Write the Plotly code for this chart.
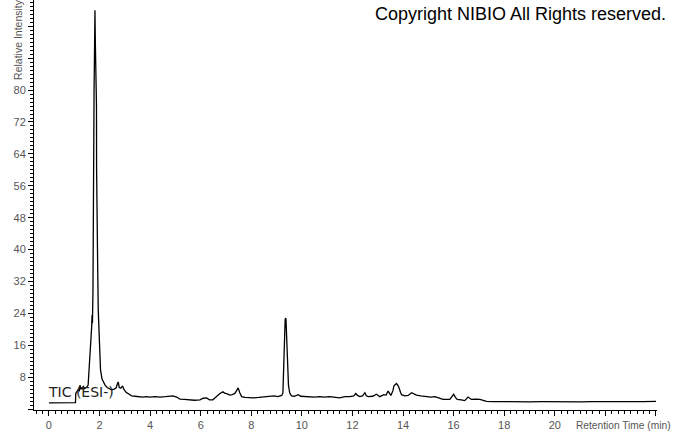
import plotly.graph_objects as go

# Retention time (min)
retention_time = [
    0.0, 0.5, 1.0, 1.05, 1.06, 1.10, 1.15, 1.20, 1.23, 1.26, 1.29, 1.33, 1.36, 1.40, 1.46, 1.50,
    1.55, 1.62, 1.69, 1.705, 1.72, 1.74, 1.745, 1.75, 1.755, 1.765, 1.785, 1.80, 1.815, 1.82,
    1.825, 1.835, 1.85, 1.87, 1.88, 1.885, 1.89, 1.91, 1.925, 1.95, 1.99, 2.04, 2.10, 2.15,
    2.22, 2.30, 2.40, 2.48, 2.58, 2.66, 2.70, 2.74, 2.78, 2.84, 2.91, 2.96, 3.05, 3.15, 3.27,
    3.4, 3.55, 3.7, 3.85, 4.0, 4.2, 4.4, 4.6, 4.75, 4.9, 5.05, 5.18, 5.35, 5.57, 5.75, 5.97,
    6.1, 6.23, 6.35, 6.48, 6.6, 6.76, 6.88, 6.95, 7.05, 7.15, 7.25, 7.35, 7.42, 7.48, 7.55,
    7.62, 7.75, 7.9, 8.1, 8.3, 8.5, 8.7, 8.9, 9.05, 9.15, 9.2, 9.25, 9.28, 9.31, 9.34, 9.37,
    9.40, 9.43, 9.47, 9.52, 9.59, 9.7, 9.86, 9.95, 10.1, 10.3, 10.5, 10.7, 10.9, 11.1, 11.3,
    11.5, 11.7, 11.9, 12.05, 12.13, 12.2, 12.29, 12.4, 12.49, 12.55, 12.62, 12.8, 12.95, 13.08,
    13.24, 13.33, 13.41, 13.52, 13.6, 13.64, 13.7, 13.74, 13.79, 13.83, 13.9, 13.94, 14.07,
    14.2, 14.34, 14.45, 14.53, 14.7, 14.93, 15.1, 15.26, 15.4, 15.58, 15.85, 15.93, 16.0,
    16.07, 16.14, 16.3, 16.44, 16.57, 16.7, 16.85, 17.04, 17.2, 17.3, 17.55, 18.0, 18.5, 19.0,
    19.5, 20.0, 20.5, 21.0, 21.5, 22.0, 22.5, 23.0, 23.5, 24.0,
]

# Relative intensity (%)
relative_intensity = [
    1.55, 1.55, 1.55, 1.6, 3.9, 4.2, 4.8, 4.6, 6.0, 4.9, 5.4, 5.0, 5.8, 5.1, 5.3, 5.5,
    6.0, 12.3, 20.6, 23.5, 21.5, 29, 40, 50, 62, 72, 80, 88, 96, 100,
    97, 92, 88, 83, 76, 60, 50, 45, 37, 24.8, 16.5, 9.8, 7.5, 6.8,
    6.0, 5.4, 5.0, 4.8, 5.0, 5.3, 6.2, 6.8, 5.4, 5.2, 5.8, 5.0, 4.2, 3.7, 3.3,
    3.2, 3.1, 3.0, 3.1, 3.0, 3.1, 3.0, 3.1, 3.2, 3.3, 3.0, 2.5, 2.4, 2.2, 2.2, 2.3,
    2.7, 2.8, 2.3, 2.3, 3.0, 3.9, 4.3, 4.0, 3.8, 3.5, 3.6, 3.9, 4.6, 5.3, 4.0,
    3.1, 2.9, 2.8, 2.8, 2.9, 3.0, 3.1, 3.3, 3.1, 3.2, 3.4, 4.0, 10, 19, 22.5, 22.8,
    17, 10, 6, 4, 3.3, 3.2, 3.6, 3.2, 3.1, 3.1, 3.0, 3.1, 3.0, 3.1, 3.0,
    2.8, 3.1, 3.1, 3.3, 3.9, 3.4, 3.1, 3.3, 4.1, 3.3, 3.1, 3.2, 3.7, 3.1,
    3.6, 3.5, 4.5, 3.4, 4.6, 5.8, 6.3, 6.4, 6.0, 5.5, 4.2, 3.6, 3.3,
    3.4, 4.1, 3.7, 3.5, 3.3, 3.1, 3.0, 3.1, 2.8, 2.4, 2.4, 3.0, 3.7,
    2.9, 2.4, 2.3, 2.1, 3.0, 2.4, 2.5, 2.4, 2.1, 1.9, 1.85, 1.8, 1.85, 1.8,
    1.85, 1.8, 1.85, 1.8, 1.85, 1.8, 1.85, 1.85, 1.85, 1.9,
]

x_tick_values = [0, 2, 4, 6, 8, 10, 12, 14, 16, 18, 20, 22, 24]
x_tick_labels = ["0", "2", "4", "6", "8", "10", "12", "14", "16", "18", "20", "", ""]
y_tick_values = [0, 8, 16, 24, 32, 40, 48, 56, 64, 72, 80, 88, 96]
y_tick_labels = ["", "8", "16", "24", "32", "40", "48", "56", "64", "72", "80", "", ""]

fig = go.Figure()
fig.add_trace(go.Scatter(
    x=retention_time, y=relative_intensity, mode="lines",
    line=dict(color="black", width=1.3), showlegend=False, hoverinfo="skip",
))

tick_font = dict(family="Liberation Sans, Arial, sans-serif", size=11, color="#555555")

fig.update_layout(
    width=673, height=433,
    margin=dict(l=34, r=16, t=0, b=23),
    paper_bgcolor="white", plot_bgcolor="white",
    xaxis=dict(
        range=[-0.59, 24.04], showgrid=False, zeroline=False,
        showline=True, linecolor="black", linewidth=1,
        tickmode="array", tickvals=x_tick_values, ticktext=x_tick_labels,
        ticks="outside", ticklen=5, tickcolor="black", tickwidth=1,
        tickfont=tick_font,
        minor=dict(dtick=0.25, tick0=0, ticks="outside", ticklen=3, tickcolor="black", showgrid=False),
    ),
    yaxis=dict(
        range=[-0.25, 102.6], showgrid=False, zeroline=False,
        showline=True, linecolor="black", linewidth=1,
        tickmode="array", tickvals=y_tick_values, ticktext=y_tick_labels,
        ticks="outside", ticklen=5, tickcolor="black", tickwidth=1,
        tickfont=tick_font,
        minor=dict(dtick=1, tick0=0, ticks="outside", ticklen=3, tickcolor="black", showgrid=False),
    ),
    annotations=[
        dict(text="Copyright NIBIO All Rights reserved.", xref="paper", yref="paper",
             x=1.0175, y=0.966, xanchor="right", yanchor="middle", showarrow=False,
             font=dict(family="Liberation Sans, Arial, sans-serif", size=18, color="black")),
        dict(text="TIC (ESI-)", xref="x", yref="y", x=-0.1, y=4.3,
             xanchor="left", yanchor="middle", showarrow=False,
             font=dict(family="DejaVu Sans, Verdana, sans-serif", size=14, color="#222222")),
        dict(text="Retention Time (min)", xref="paper", yref="paper",
             x=1.025, y=-0.039, xanchor="right", yanchor="middle", showarrow=False,
             font=dict(family="Liberation Sans, Arial, sans-serif", size=10.2, color="#555555")),
        dict(text="Relative Intensity", xref="paper", yref="paper",
             x=-0.0257, y=0.905, xanchor="center", yanchor="middle", showarrow=False,
             textangle=-90,
             font=dict(family="Liberation Sans, Arial, sans-serif", size=10.5, color="#555555")),
    ],
)

fig.write_html(
    "out.html",
    config={"displayModeBar": False},
    post_script="document.body.style.margin='0';document.body.style.overflow='hidden';",
)
